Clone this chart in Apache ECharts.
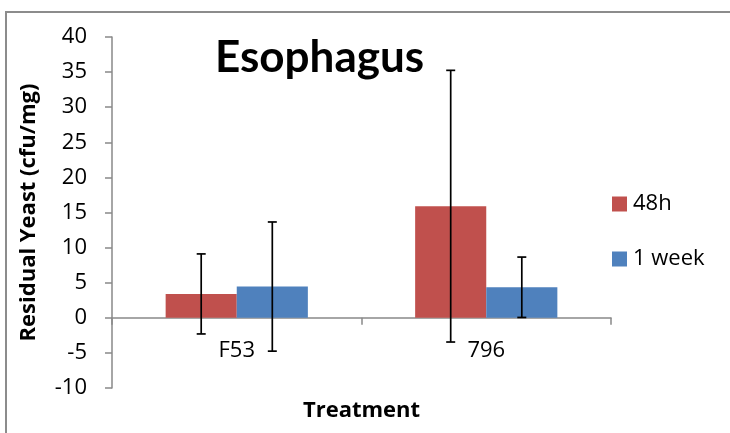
<!DOCTYPE html>
<html><head><meta charset="utf-8">
<script src="https://cdn.jsdelivr.net/npm/echarts@6/dist/echarts.min.js"></script>
<style>html,body{margin:0;padding:0;background:#fff}#c{width:730px;height:433px}</style>
</head><body><div id="c"></div>
<script>
const categories = ['F53', '796'];
const seriesNames = ['48h', '1 week'];
const values48h = [3.4, 15.9];
const values1wk = [4.45, 4.35];
const err48h = [5.7, 19.35];
const err1wk = [9.2, 4.3];
const yMin = -10, yMax = 40, yInterval = 5;
const titleText = 'Esophagus';
const yName = 'Residual Yeast (cfu/mg)';
const xName = 'Treatment';

const colors = ['#C0504D', '#4F81BD'];
const GAP = 0.43;
const FONT = '"Open Sans", Lato, sans-serif';
const TFONT = 'Lato, "Open Sans", sans-serif';
const axisColor = '#898989';
const GRID_TOP = 37, GRID_H = 351;
// distance of the zero line above the grid bottom
const zeroOffset = GRID_H * (0 - yMin) / (yMax - yMin);

function errData(vals, errs, s) {
  return vals.map((v, i) => [i, v - errs[i], v + errs[i], s]);
}

const chart = echarts.init(document.getElementById('c'), null, {renderer: 'canvas'});
chart.setOption({
  animation: false,
  backgroundColor: '#fff',
  title: {
    text: titleText, left: 215, top: 36, padding: 0,
    textStyle: {fontFamily: TFONT, fontWeight: 'bold', fontSize: 44, color: '#000'}
  },
  legend: {
    data: seriesNames, orient: 'vertical', left: 612, top: 193, padding: 0,
    itemWidth: 15, itemHeight: 15, itemGap: 33, icon: 'rect',
    textStyle: {fontFamily: FONT, fontSize: 22, color: '#000', padding: [0, 0, 0, 1]}
  },
  grid: {left: 112, top: GRID_TOP, width: 499, height: GRID_H, outerBoundsMode: 'none', containLabel: false},
  graphic: [{
    type: 'rect', shape: {x: 6, y: 12, width: 900, height: 600},
    style: {fill: 'none', stroke: '#8c8c8c', lineWidth: 2}, silent: true
  }],
  xAxis: {
    type: 'category', data: categories, position: 'bottom', offset: -zeroOffset,
    name: xName, nameLocation: 'middle', nameGap: 82,
    nameTextStyle: {fontFamily: FONT, fontWeight: 'bold', fontSize: 22, color: '#000'},
    axisLine: {onZero: false, lineStyle: {color: axisColor, width: 1.5}},
    axisTick: {show: true, alignWithLabel: false, length: 7, lineStyle: {color: axisColor, width: 1.5}},
    axisLabel: {fontFamily: FONT, fontSize: 22, color: '#000', margin: 22},
    splitLine: {show: false}
  },
  yAxis: {
    type: 'value', min: yMin, max: yMax, interval: yInterval,
    name: yName, nameLocation: 'middle', nameGap: 72, nameRotate: 90,
    nameTextStyle: {fontFamily: FONT, fontWeight: 'bold', fontSize: 22, color: '#000'},
    axisLine: {show: true, lineStyle: {color: axisColor, width: 1.5}},
    axisTick: {show: true, length: 7, lineStyle: {color: axisColor, width: 1.5}},
    axisLabel: {fontFamily: FONT, fontSize: 22, color: '#000', margin: 25},
    splitLine: {show: false}
  },
  series: [
    {name: seriesNames[0], type: 'bar', data: values48h, barGap: 0, barCategoryGap: (GAP * 100) + '%',
     itemStyle: {color: colors[0]}},
    {name: seriesNames[1], type: 'bar', data: values1wk, barGap: 0, barCategoryGap: (GAP * 100) + '%',
     itemStyle: {color: colors[1]}},
    {
      type: 'custom', name: 'err', z: 10,
      data: errData(values48h, err48h, 0).concat(errData(values1wk, err1wk, 1)),
      encode: {x: 0, y: [1, 2]},
      renderItem: function (params, api) {
        const x = api.value(0), lo = api.value(1), hi = api.value(2), s = api.value(3);
        const band = api.size([1, 0])[0];
        const bw = band * (1 - GAP) / 2;
        const off = (s === 0 ? -0.5 : 0.5) * bw;
        const pT = api.coord([x, hi]);
        const pB = api.coord([x, lo]);
        const cx = pT[0] + off;
        const hw = 4.5;
        const st = {stroke: '#000', lineWidth: 1.7};
        return {type: 'group', children: [
          {type: 'line', shape: {x1: cx, y1: pT[1], x2: cx, y2: pB[1]}, style: st},
          {type: 'line', shape: {x1: cx - hw, y1: pT[1], x2: cx + hw, y2: pT[1]}, style: st},
          {type: 'line', shape: {x1: cx - hw, y1: pB[1], x2: cx + hw, y2: pB[1]}, style: st}
        ]};
      }
    }
  ]
});
</script>
</body></html>
